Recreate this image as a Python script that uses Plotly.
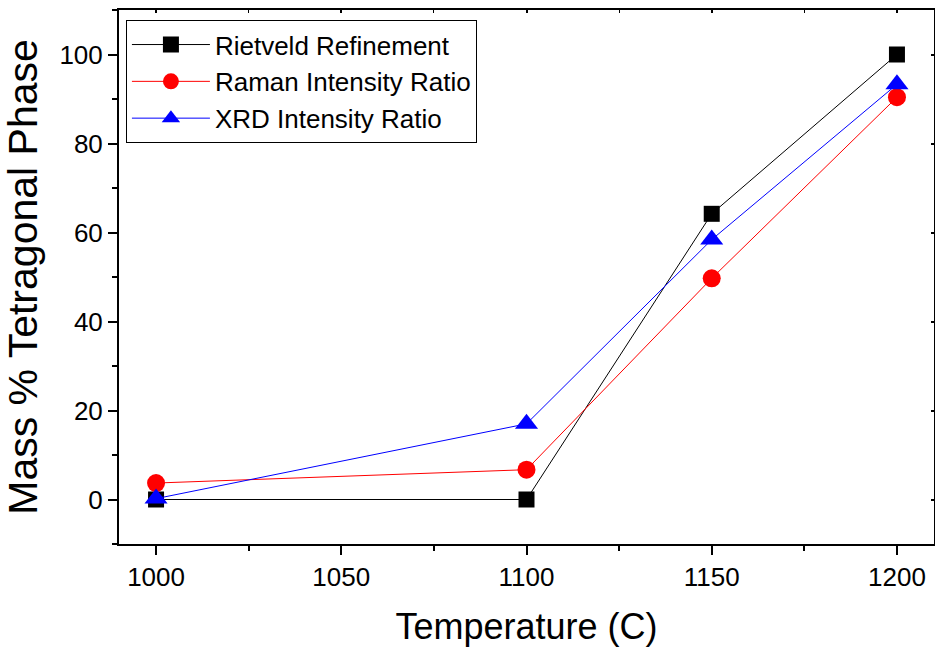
import plotly.graph_objects as go

temps = [1000, 1100, 1150, 1200]
rietveld = [0.0, 0.0, 64.2, 100.0]
raman = [3.7, 6.7, 49.7, 90.4]
xrd = [0.2, 17.0, 58.4, 93.3]

series = [
    ("Rietveld Refinement", rietveld, "#000000", "square", 16),
    ("Raman Intensity Ratio", raman, "#ff0000", "circle", 18),
    ("XRD Intensity Ratio", xrd, "#0000ff", "triangle-up", 20),
]

FONT = "Liberation Sans, Arial, sans-serif"

fig = go.Figure()
for name, vals, color, sym, size in series:
    fig.add_trace(go.Scatter(
        x=temps, y=vals, name=name, mode="lines+markers",
        line=dict(color=color, width=1),
        marker=dict(symbol=sym, size=size, color=color, line=dict(width=0)),
    ))

axis_common = dict(showgrid=False, zeroline=False, showline=True,
                   linecolor="black", linewidth=2, tickcolor="black", tickwidth=2)

fig.update_layout(
    width=935, height=650,
    margin=dict(l=119, r=1, t=10, b=106),
    plot_bgcolor="white", paper_bgcolor="white",
    font=dict(family=FONT, color="black"),
    xaxis=dict(range=[990, 1210], tickmode="linear", tick0=1000, dtick=50,
               ticks="outside", ticklen=9,
               minor=dict(ticks="outside", ticklen=5, dtick=25, tick0=1000,
                          tickcolor="black", tickwidth=2),
               tickfont=dict(size=26, family=FONT),
               title=dict(text="Temperature (C)", font=dict(size=36, family=FONT), standoff=23),
               **axis_common),
    yaxis=dict(range=[-10, 110], tickmode="linear", tick0=0, dtick=20,
               ticks="outside", ticklen=9,
               minor=dict(ticks="outside", ticklen=5, dtick=10, tick0=0,
                          tickcolor="black", tickwidth=2),
               tickfont=dict(size=26, family=FONT),
               title=dict(text="Mass % Tetragonal Phase", font=dict(size=41, family=FONT), standoff=10),
               **axis_common),
    xaxis2=dict(range=[990, 1210], overlaying="x", side="top", tickmode="linear",
                tick0=1000, dtick=50, ticks="inside", ticklen=3, showticklabels=False,
                minor=dict(ticks="inside", ticklen=3, dtick=25, tick0=1000,
                           tickcolor="black", tickwidth=1),
                **axis_common),
    yaxis2=dict(range=[-10, 110], overlaying="y", side="right", tickmode="linear",
                tick0=0, dtick=20, ticks="inside", ticklen=3, showticklabels=False,
                **axis_common),
    legend=dict(x=0.0085, y=0.981, xanchor="left", yanchor="top",
                bgcolor="white", bordercolor="black", borderwidth=1,
                font=dict(size=26, family=FONT), itemwidth=78,
                tracegroupgap=0),
    showlegend=True,
)

# invisible trace to activate mirror axes
fig.add_trace(go.Scatter(x=[None], y=[None], xaxis="x2", yaxis="y2",
                         showlegend=False, hoverinfo="skip"))

fig.write_html("out.html")
